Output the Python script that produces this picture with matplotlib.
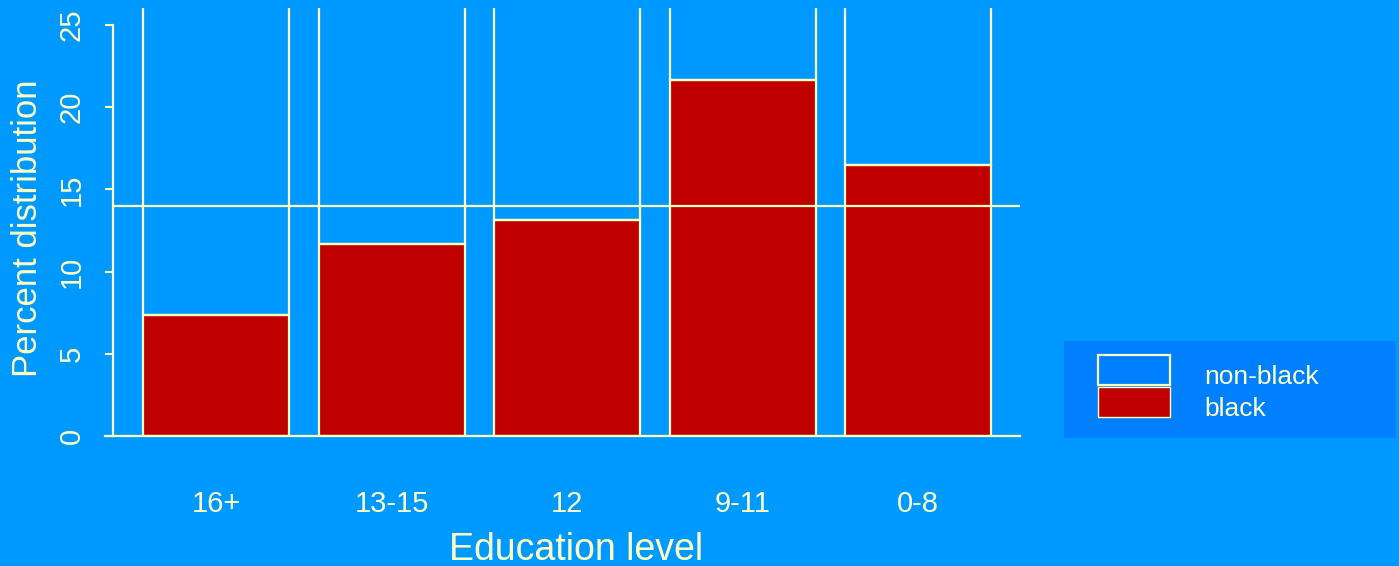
import matplotlib.pyplot as plt
from matplotlib.patches import Patch, Rectangle

# data
levels = ["16+", "13-15", "12", "9-11", "0-8"]
black = [7.36, 11.68, 13.14, 21.65, 16.48]
total = 100
ref_line = 14
yticks = [0, 5, 10, 15, 20, 25]

bg = "#0099FF"
legend_bg = "#0080FF"
red = "#C00000"
cream = "#FFFFC0"

plt.rcParams["font.family"] = ["Liberation Sans", "DejaVu Sans"]

fig = plt.figure(figsize=(13.99, 5.66), dpi=100, facecolor=bg)
ax = fig.add_axes([0.0751, 0.2297, 0.654, 0.7562])
ax.set_facecolor(bg)

x = list(range(len(levels)))
nonblack = [total - b for b in black]
ax.bar(x, black, width=0.832, color=red, edgecolor=cream, linewidth=1.6, zorder=2)
ax.bar(x, nonblack, bottom=black, width=0.832, facecolor="none",
       edgecolor=cream, linewidth=1.6, zorder=2)

x_left, x_right = -0.632, 4.58
y_axis_x = -0.587
ax.set_xlim(x_left, x_right)
ax.set_ylim(0, 26.03)

ax.hlines(ref_line, y_axis_x, x_right, color=cream, linewidth=1.6, zorder=3)

for s in ["top", "right"]:
    ax.spines[s].set_visible(False)
ax.spines["left"].set_position(("data", y_axis_x))
ax.spines["left"].set_bounds(0, 25)
ax.spines["left"].set_color(cream)
ax.spines["left"].set_linewidth(1.6)
ax.spines["bottom"].set_color(cream)
ax.spines["bottom"].set_linewidth(1.6)

ax.set_yticks(yticks)
ax.set_xticks(x)
ax.set_xticklabels(levels)
ax.tick_params(axis="y", direction="out", length=5.8, width=1.5, color=cream,
               labelcolor=cream, labelsize=21, labelrotation=90, pad=14)
ax.tick_params(axis="x", length=0, labelcolor=cream, labelsize=21, pad=39)
for lab in ax.get_yticklabels():
    lab.set_va("center")

fig.text(0.4117, 0.028, "Education level", color=cream, fontsize=27,
         ha="center", va="center")
fig.text(0.020, 0.597, "Percent distribution", color=cream, fontsize=25,
         ha="center", va="center", rotation=90)

# legend
fig.patches.append(Rectangle((1064 / 1399, 1 - 438 / 566), 332 / 1399, 97 / 566,
                             transform=fig.transFigure, facecolor=legend_bg,
                             edgecolor="none", zorder=0))
handles = [Patch(facecolor="none", edgecolor=cream, linewidth=1.6, label="non-black"),
           Patch(facecolor=red, edgecolor=cream, linewidth=1.0, label="black")]
leg = fig.legend(handles=handles, loc="center left",
                 bbox_to_anchor=(1080 / 1399, 1 - 386 / 566), frameon=False,
                 fontsize=19, handlelength=2.7, handleheight=1.36,
                 labelspacing=0.08, handletextpad=1.3, borderpad=0.2)
for t in leg.get_texts():
    t.set_color(cream)
    t.set_y(-5)

fig.savefig("out.png", dpi=100, facecolor=bg)
